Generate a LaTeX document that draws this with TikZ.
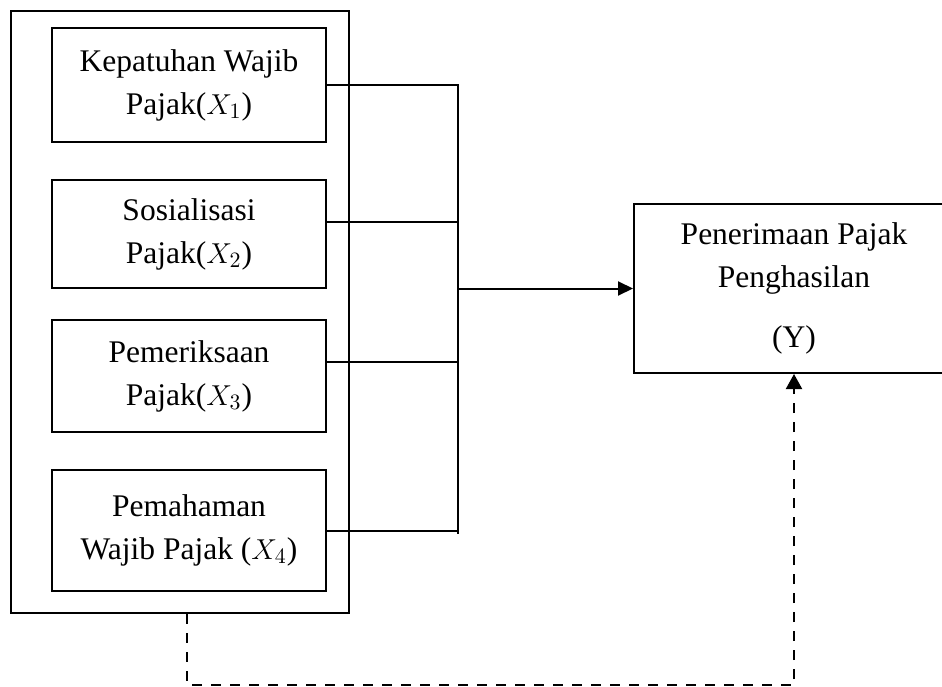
\documentclass[tikz,border=0pt]{standalone}
\usepackage{fontspec}
\setmainfont{Liberation Serif}
\usetikzlibrary{arrows.meta}

\begin{document}
\begin{tikzpicture}[x=0.5pt,y=-0.5pt,
        font=\fontsize{15.75}{21.5}\selectfont,
        varbox/.style={draw, line width=1pt, minimum width=137pt, align=center, inner sep=0pt},
        link/.style={line width=1pt}]
    \useasboundingbox (0,0) rectangle (942,686);

    \node[draw, line width=1pt, minimum width=169pt, minimum height=301pt] (grp) at (180,312) {};
    \node[varbox, minimum height=57pt] (x1) at (189,85) {Kepatuhan Wajib\\Pajak($X_1$)};
    \node[varbox, minimum height=54pt] (x2) at (189,234) {Sosialisasi\\Pajak($X_2$)};
    \node[varbox, minimum height=56pt] (x3) at (189,376) {Pemeriksaan\\Pajak($X_3$)};
    \node[varbox, minimum height=60.5pt] (x4) at (189,530.5) {Pemahaman\\Wajib Pajak ($X_4$)};

    \node[draw, line width=1pt, minimum width=160pt, minimum height=84.5pt, align=center, inner sep=0pt] (ybox) at (794,288.5)
        {Penerimaan Pajak\\Penghasilan\\[8.5pt](Y)};

    % garis penghubung
    \coordinate (bus) at (458,84);
    \draw[link] (x1.east) -- (x1.east -| bus) -- ([yshift=-1.5pt]x4.east -| bus);
    \draw[link] ([yshift=6pt]x2.east) -- ([yshift=6pt]x2.east -| bus);
    \draw[link] ([yshift=7pt]x3.east) -- ([yshift=7pt]x3.east -| bus);
    \draw[link] (x4.east) -- (x4.east -| bus);
    \draw[link, -{Triangle[length=7.5pt,width=7pt]}] (bus |- ybox.west) -- (ybox.west);

    % garis putus-putus
    \coordinate (dl) at (187,685);
    \coordinate (dr) at (794,685);
    \draw[link, dash pattern=on 5pt off 4.5pt, -{Triangle[length=7.5pt,width=8pt]}]
        (grp.south -| dl) -- (dl) -- (dr) -- (ybox.south);
\end{tikzpicture}
\end{document}
